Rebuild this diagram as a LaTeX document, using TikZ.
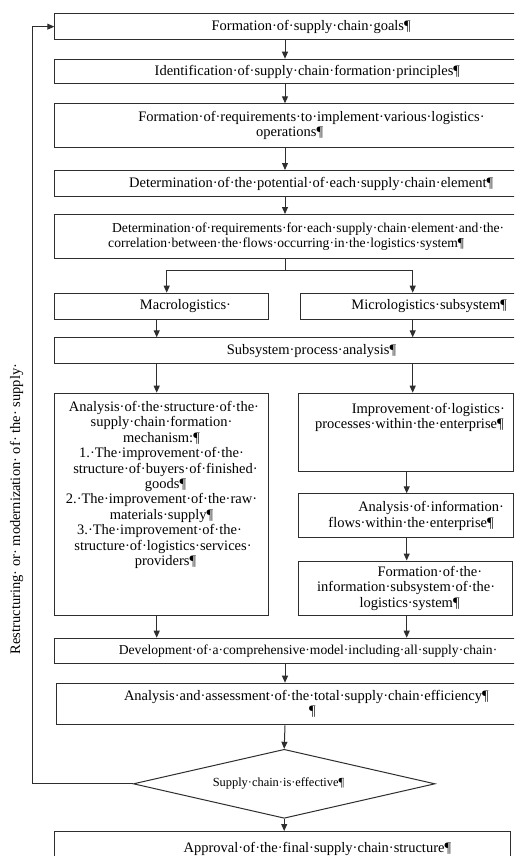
\documentclass[tikz,border=0pt]{standalone}
\usepackage{fontspec}
\setmainfont{Liberation Serif}
\usetikzlibrary{arrows.meta,shapes.geometric,calc}
\newcommand\LN[2]{\makebox[0pt]{\hspace*{#1}\hspace*{#1}#2}}
\newcommand\DP[1]{\rule[-#1]{0pt}{#1}}
\begin{document}
\begin{tikzpicture}[x=1pt,y=-1pt,
  box/.style={draw=black!82, line width=1pt, rectangle, inner sep=0pt, anchor=north west, align=center, text=black},
  dbox/.style={draw=black!82, line width=1pt, diamond, inner sep=0pt, align=center, text=black},
  fA/.style={font=\fontsize{14.5}{15.4}\selectfont},
  fB/.style={font=\fontsize{13.6}{15.6}\selectfont},
  fC/.style={font=\fontsize{12.4}{14}\selectfont},
  arr/.style={draw=black!82, line width=1pt, -{Triangle[width=6pt,length=7pt]}},
  ln/.style={draw=black!82, line width=1pt},
]
\clip (0,0) rectangle (514,856);
\fill[white] (0,0) rectangle (514,856);

% column coordinates
\coordinate (colM) at (285,0);
\coordinate (colL) at (156.7,0);
\coordinate (colR) at (412.7,0);
\coordinate (colR2) at (406.7,0);
\coordinate (brL) at (166.7,270);
\coordinate (brR) at (412.7,270);

% boxes
\node[box, fA, minimum width=507.7pt, minimum height=25.7pt] (b1) at (54.3,13.3)
  {\LN{2.5pt}{Formation·of·supply·chain·goals¶}};
\node[box, fA, minimum width=507.7pt, minimum height=24.6pt] (b2) at (54.3,58.7)
  {\LN{-1.3pt}{Identification·of·supply·chain·formation·principles¶}};
\node[box, fA, minimum width=507.7pt, minimum height=43.4pt] (b3) at (54.3,103.3)
  {\LN{2.8pt}{Formation·of·requirements·to·implement·various·logistics·}\\
   \LN{-19pt}{operations¶}};
\node[box, fA, minimum width=507.7pt, minimum height=26pt] (b4) at (54.3,170)
  {\LN{2.5pt}{Determination·of·the·potential·of·each·supply·chain·element¶}};
\node[box, fB, minimum width=507.7pt, minimum height=44.3pt] (b5) at (54.3,214)
  {\LN{-0.5pt}{Determination·of·requirements·for·each·supply·chain·element·and·the·}\\
   \LN{-22.5pt}{correlation·between·the·flows·occurring·in·the·logistics·system¶}};
\node[box, fA, minimum width=213.4pt, minimum height=26.3pt] (mac) at (54.3,292.7)
  {\LN{24pt}{Macrologistics·}};
\node[box, fA, minimum width=262pt, minimum height=26.3pt] (mic) at (300,292.7)
  {\LN{-2.3pt}{Micrologistics·subsystem¶}};
\node[box, fA, minimum width=507.7pt, minimum height=26pt] (sub) at (54.3,337.3)
  {\LN{2.8pt}{Subsystem·process·analysis¶}};
\node[box, fA, minimum width=213.4pt, minimum height=222.3pt] (lb) at (54.3,392.7)
  {\LN{2.5pt}{Analysis·of·the·structure·of·the·}\\
   \LN{0pt}{supply·chain·formation·}\\
   \LN{0pt}{mechanism:¶}\\
   \LN{0pt}{1.·The·improvement·of·the·}\\
   \LN{4pt}{structure·of·buyers·of·finished·}\\
   \LN{4pt}{goods¶}\\
   \LN{0pt}{2.·The·improvement·of·the·raw·}\\
   \LN{0pt}{materials·supply¶}\\
   \LN{-2pt}{3.·The·improvement·of·the·}\\
   \LN{1.5pt}{structure·of·logistics·services·}\\
   \LN{4pt}{providers¶}\DP{42pt}};
\node[box, fA, minimum width=214.7pt, minimum height=78pt] (r1) at (298.3,392.7)
  {\LN{22.2pt}{Improvement·of·logistics·}\\
   \LN{3.2pt}{processes·within·the·enterprise¶}\DP{33pt}};
\node[box, fA, minimum width=214.7pt, minimum height=44pt] (r2) at (298.3,493.3)
  {\LN{25pt}{Analysis·of·information·}\\
   \LN{4.9pt}{flows·within·the·enterprise¶}};
\node[box, fA, minimum width=213.7pt, minimum height=54.5pt] (r3) at (298.3,560.5)
  {\LN{24.2pt}{Formation·of·the·}\\
   \LN{0.5pt}{information·subsystem·of·the·}\\
   \LN{3.9pt}{logistics·system¶}};
\node[box, fB, minimum width=507.7pt, minimum height=25.6pt] (dev) at (54.3,637.7)
  {\LN{-0.6pt}{Development·of·a·comprehensive·model·including·all·supply·chain·}};
\node[box, fA, minimum width=506.3pt, minimum height=41.6pt] (ass) at (55.7,682.7)
  {\LN{-3pt}{Analysis·and·assessment·of·the·total·supply·chain·efficiency¶}\\
   \LN{3pt}{¶}};
\node[dbox, fC, minimum width=301.7pt, minimum height=69pt] (dia) at (284.2,783.8)
  {\LN{-5.7pt}{Supply·chain·is·effective¶}};
\node[box, fA, minimum width=455.7pt, minimum height=34pt] (fin) at (54.3,831)
  {\LN{34.7pt}{Approval·of·the·final·supply·chain·structure¶}};

% rotated label of the feedback line
\node[fA, rotate=90, inner sep=0pt] (rt) at (16.7,509)
  {Restructuring·\ or·\ modernization·\ of·\ the·\ supply·};

% connectors
\draw[arr] (b1.south -| colM) -- (b2.north -| colM);
\draw[arr] (b2.south -| colM) -- (b3.north -| colM);
\draw[arr] (b3.south -| colM) -- (b4.north -| colM);
\draw[arr] (b4.south -| colM) -- (b5.north -| colM);
\draw[ln] (b5.south -| colM) -- (brL -| colM);
\draw[arr] (brL -| colM) -| (mac.north -| brL);
\draw[arr] (brR -| colM) -| (mic.north -| brR);
\draw[arr] (mac.south -| colL) -- (sub.north -| colL);
\draw[arr] (mic.south -| colR) -- (sub.north -| colR);
\draw[arr] (sub.south -| colL) -- (lb.north -| colL);
\draw[arr] (sub.south -| colR) -- (r1.north -| colR);
\draw[arr] (r1.south -| colR2) -- (r2.north -| colR2);
\draw[arr] (r2.south -| colR2) -- (r3.north -| colR2);
\draw[arr] (lb.south -| colL) -- (dev.north -| colL);
\draw[arr] (r3.south -| colR2) -- (dev.north -| colR2);
\draw[arr] (dev.south -| colM) -- (ass.north -| colM);
\draw[arr] (ass.south -| colM) -- (dia.north);
\draw[arr] (dia.south) -- (fin.north -| dia.south);
\coordinate (fb) at (32.3,783.8);
\draw[arr] (dia.west) -- (fb) |- (b1.west);
\end{tikzpicture}
\end{document}
